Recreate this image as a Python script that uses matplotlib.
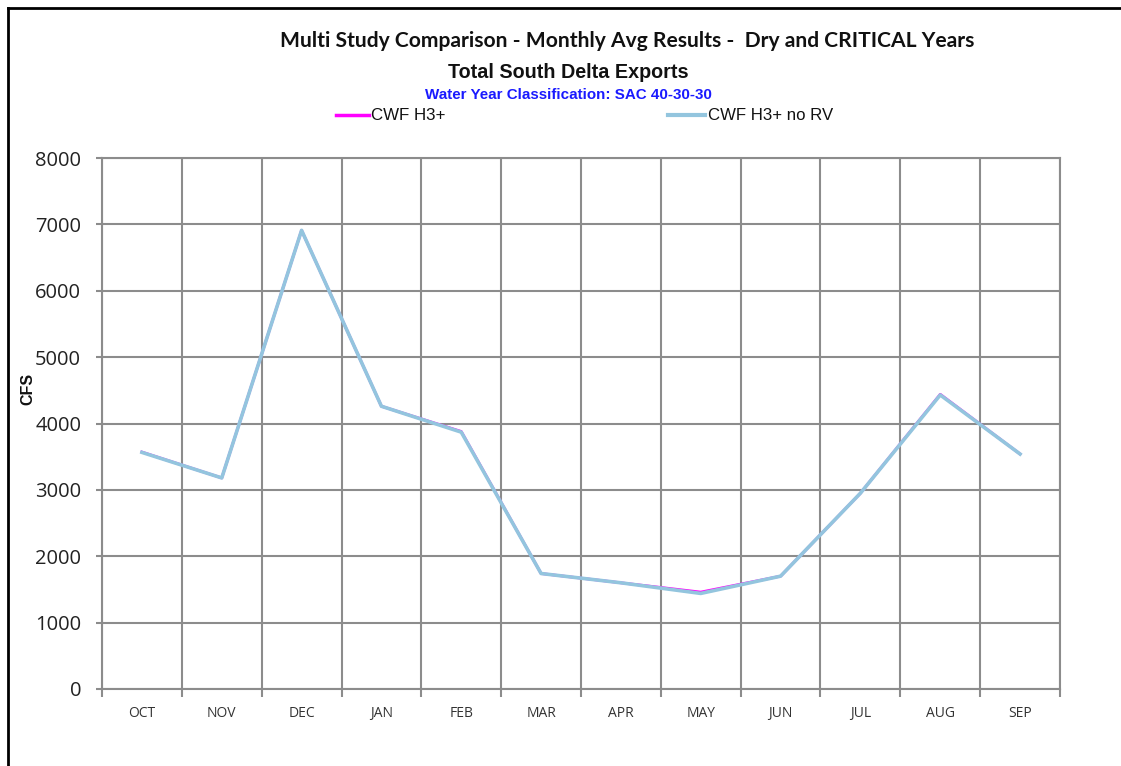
import matplotlib
matplotlib.use('agg')
import matplotlib.pyplot as plt
from matplotlib.lines import Line2D
import numpy as np

# 月份与两组结果
months = ['OCT', 'NOV', 'DEC', 'JAN', 'FEB', 'MAR', 'APR', 'MAY', 'JUN', 'JUL', 'AUG', 'SEP']
cwf_h3 = [3570, 3180, 6910, 4260, 3880, 1740, 1600, 1460, 1700, 2950, 4440, 3540]
cwf_h3_norv = [3565, 3180, 6910, 4260, 3870, 1740, 1600, 1440, 1700, 2950, 4430, 3540]
yticks = [0, 1000, 2000, 3000, 4000, 5000, 6000, 7000, 8000]

grid_c = '#8c8c8c'
narrow = ['Liberation Sans Narrow', 'Liberation Sans']

fig = plt.figure(figsize=(11.21, 7.66), dpi=100)
ax = fig.add_axes([102 / 1121, 77 / 766, 958 / 1121, 531 / 766])

x = np.arange(len(months))
ax.plot(x, cwf_h3, color='#ff00ff', lw=2.0, zorder=3)
ax.plot(x, cwf_h3_norv, color='#93c5de', lw=2.6, zorder=4)

ax.set_xlim(-0.5, len(months) - 0.5)
ax.set_ylim(0, 8000)
ax.set_yticks(yticks)
ax.set_yticklabels([str(v) for v in yticks], fontsize=14.5, family='Open Sans', color='#222222')
ax.set_xticks(x)
ax.set_xticklabels(months, fontsize=10, family='Open Sans', color='#333333')
ax.set_xticks(np.arange(-0.5, len(months)), minor=True)
ax.tick_params(axis='x', which='major', length=0, pad=12)
ax.tick_params(axis='x', which='minor', length=6, width=1.5, color=grid_c)
ax.tick_params(axis='y', length=4.5, width=1.5, color=grid_c, pad=10.5)

ax.grid(True, axis='y', which='major', color=grid_c, lw=1.5)
ax.grid(True, axis='x', which='minor', color=grid_c, lw=1.5)
for s in ax.spines.values():
    s.set_color(grid_c)
    s.set_linewidth(1.5)
ax.set_axisbelow(True)

# 纵轴标题
fig.text(28 / 1121, 1 - 389 / 766, 'CFS', rotation=90, ha='center', va='center',
         fontsize=11.5, fontweight='bold', family='Liberation Sans', color='#111111')

# 标题
fig.text(627 / 1121, 1 - 41 / 766, 'Multi Study Comparison - Monthly Avg Results -  Dry and CRITICAL Years',
         ha='center', va='center', fontsize=15.1, fontweight='bold', family='Lato', color='#111111')
fig.text(568 / 1121, 1 - 72 / 766, 'Total South Delta Exports',
         ha='center', va='center', fontsize=14.2, fontweight='bold', family=narrow, color='#111111')
fig.text(568 / 1121, 1 - 95 / 766, 'Water Year Classification: SAC 40-30-30',
         ha='center', va='center', fontsize=10.9, fontweight='bold', family=narrow, color='#1a1aff')

# 图例
fig.add_artist(Line2D([336 / 1121, 369 / 1121], [1 - 115 / 766] * 2, color='#ff00ff', lw=2.5))
fig.text(371 / 1121, 1 - 115 / 766, 'CWF H3+', ha='left', va='center', fontsize=12.2,
         family=narrow, color='#111111')
fig.add_artist(Line2D([668 / 1121, 705 / 1121], [1 - 115 / 766] * 2, color='#93c5de', lw=3))
fig.text(708 / 1121, 1 - 115 / 766, 'CWF H3+ no RV', ha='left', va='center', fontsize=12.1,
         family=narrow, color='#111111')

# 外框(上、左)
fig.add_artist(Line2D([8 / 1121, 1], [1 - 8 / 766] * 2, color='black', lw=2))
fig.add_artist(Line2D([8 / 1121] * 2, [0, 1 - 8 / 766], color='black', lw=2))

fig.savefig('out.png', dpi=100)
plt.close()
